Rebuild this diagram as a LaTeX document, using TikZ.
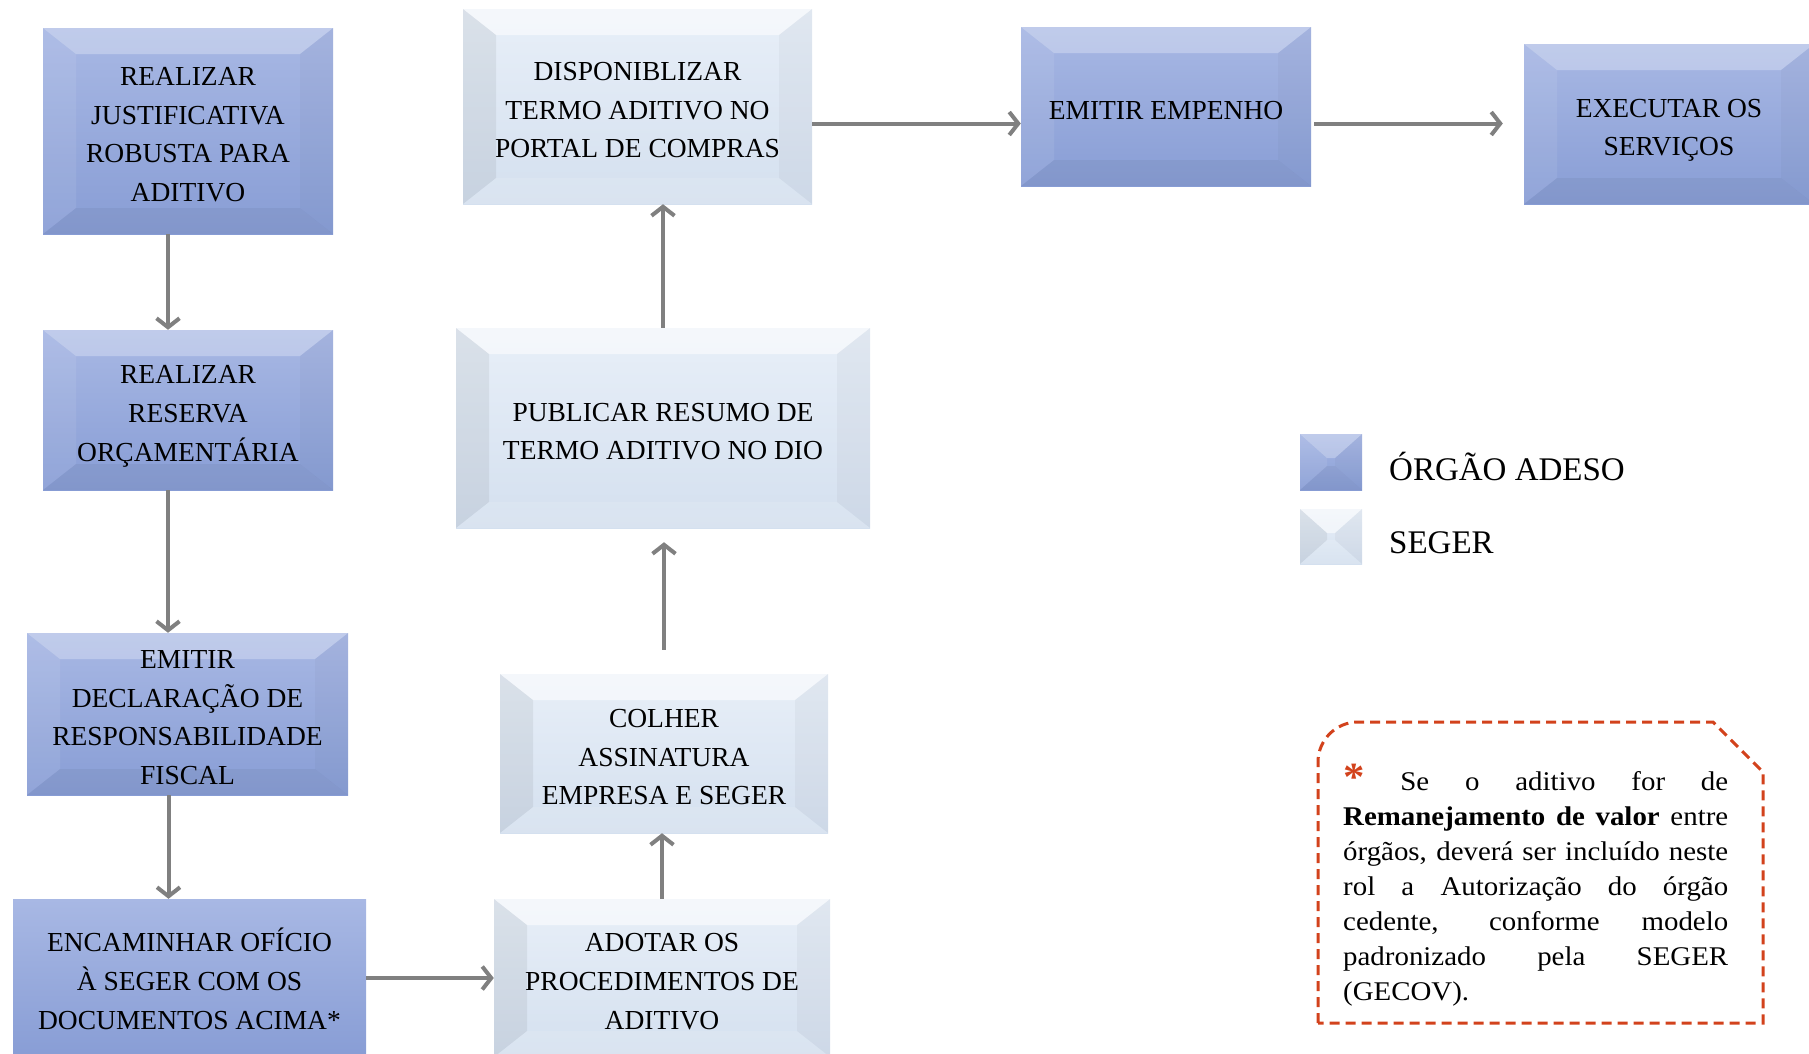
\documentclass[tikz,border=0pt]{standalone}
\usepackage{fontspec}
\setmainfont{Liberation Serif}
\newfontfamily\notefont{Liberation Serif}[FakeStretch=1.07]
\usetikzlibrary{arrows.meta,calc}
\definecolor{blueA}{RGB}{168,184,228}
\definecolor{blueB}{RGB}{136,157,213}
\definecolor{lightA}{RGB}{232,239,248}
\definecolor{lightB}{RGB}{212,224,239}
\definecolor{arrgray}{RGB}{128,128,128}
\definecolor{notered}{RGB}{210,66,28}
\newcommand{\boxfont}{\fontsize{27.5}{38.6}\selectfont}
\newcommand{\tstrut}{\rule{0pt}{35pt}}
\newcommand{\bstrut}{\rule[-10pt]{0pt}{10pt}}
\tikzset{
  bevelblue/.style 2 args={path picture={
    \coordinate (@nw) at (path picture bounding box.north west);
    \coordinate (@ne) at (path picture bounding box.north east);
    \coordinate (@sw) at (path picture bounding box.south west);
    \coordinate (@se) at (path picture bounding box.south east);
    \fill[white,opacity=0.28] (@nw) -- (@ne) -- ($(@ne)+(-#1,-#2)$) -- ($(@nw)+(#1,-#2)$) -- cycle;
    \fill[white,opacity=0.08] (@nw) -- ($(@nw)+(#1,-#2)$) -- ($(@sw)+(#1,#2)$) -- (@sw) -- cycle;
    \fill[black,opacity=0.025] (@ne) -- ($(@ne)+(-#1,-#2)$) -- ($(@se)+(-#1,#2)$) -- (@se) -- cycle;
    \fill[black,opacity=0.045] (@sw) -- ($(@sw)+(#1,#2)$) -- ($(@se)+(-#1,#2)$) -- (@se) -- cycle;
  }},
  bevellight/.style 2 args={path picture={
    \coordinate (@nw) at (path picture bounding box.north west);
    \coordinate (@ne) at (path picture bounding box.north east);
    \coordinate (@sw) at (path picture bounding box.south west);
    \coordinate (@se) at (path picture bounding box.south east);
    \fill[white,opacity=0.55] (@nw) -- (@ne) -- ($(@ne)+(-#1,-#2)$) -- ($(@nw)+(#1,-#2)$) -- cycle;
    \fill[black,opacity=0.06] (@nw) -- ($(@nw)+(#1,-#2)$) -- ($(@sw)+(#1,#2)$) -- (@sw) -- cycle;
    \fill[black,opacity=0.03] (@ne) -- ($(@ne)+(-#1,-#2)$) -- ($(@se)+(-#1,#2)$) -- (@se) -- cycle;
    \fill[white,opacity=0.12] (@sw) -- ($(@sw)+(#1,#2)$) -- ($(@se)+(-#1,#2)$) -- (@se) -- cycle;
  }},
  stepbox/.style={inner sep=0pt, align=center, font=\boxfont, text=black},
  bluebox/.style={stepbox, top color=blueA, bottom color=blueB, bevelblue={33}{26}},
  flatblue/.style={stepbox, top color=blueA, bottom color=blueB},
  lightbox/.style={stepbox, top color=lightA, bottom color=lightB, bevellight={33}{26}},
  arr/.style={draw=arrgray, line width=4pt, -{Straight Barb[length=9pt,width=23pt]}},
  legtext/.style={anchor=base west, inner sep=0pt, font=\fontsize{33}{40}\selectfont},
}
\begin{document}
\begin{tikzpicture}[x=1pt,y=1pt]
\path[use as bounding box] (0,0) rectangle (1809,-1053);
\clip (0,0) rectangle (1809,-1053);

% left column (ÓRGÃO ADESO)
\node[bluebox, minimum width=290pt, minimum height=206pt] (n1) at (188,-131)
  {\tstrut REALIZAR\\JUSTIFICATIVA\\ROBUSTA PARA\\ADITIVO\bstrut};
\node[bluebox, minimum width=290pt, minimum height=160pt] (n2) at (188,-410)
  {\tstrut REALIZAR\\RESERVA\\ORÇAMENTÁRIA\bstrut};
\node[bluebox, minimum width=321pt, minimum height=162pt] (n3) at (187.5,-714)
  {\tstrut EMITIR\\DECLARAÇÃO DE\\RESPONSABILIDADE\\FISCAL\bstrut};
\node[flatblue, minimum width=353pt, minimum height=158pt] (n4) at (189.5,-978)
  {\tstrut ENCAMINHAR OFÍCIO\\À SEGER COM OS\\DOCUMENTOS ACIMA*\bstrut};

% middle column (SEGER)
\node[lightbox, minimum width=336pt, minimum height=158pt] (n5) at (662,-978)
  {\tstrut ADOTAR OS\\PROCEDIMENTOS DE\\ADITIVO\bstrut};
\node[lightbox, minimum width=328pt, minimum height=159pt] (n6) at (664,-753.5)
  {\tstrut COLHER\\ASSINATURA\\EMPRESA E SEGER\bstrut};
\node[lightbox, minimum width=414pt, minimum height=200pt] (n7) at (663,-428)
  {\tstrut PUBLICAR RESUMO DE\\TERMO ADITIVO NO DIO\bstrut};
\node[lightbox, minimum width=349pt, minimum height=195pt] (n8) at (637.5,-106.5)
  {\tstrut DISPONIBLIZAR\\TERMO ADITIVO NO\\PORTAL DE COMPRAS\bstrut};

% top right
\node[bluebox, minimum width=290pt, minimum height=159pt] (n9) at (1166,-106.5)
  {\tstrut EMITIR EMPENHO\bstrut};
\node[bluebox, minimum width=290pt, minimum height=160pt] (n10) at (1669,-124)
  {\tstrut EXECUTAR OS\\SERVIÇOS\bstrut};

% connectors
\draw[arr] ([xshift=-20pt]n1.south) -- ([xshift=-20pt]n2.north);
\draw[arr] ([xshift=-20pt]n2.south) -- ([xshift=-20pt]n2.south |- n3.north);
\draw[arr] ([xshift=-19pt]n3.south) -- ([xshift=-19pt]n3.south |- n4.north);
\draw[arr] (n4.east) -- (n5.west);
\draw[arr] (n5.north) -- (n5.north |- n6.south);
\draw[arr, shorten <=24pt, shorten >=14pt] (n6.north) -- (n6.north |- n7.south);
\draw[arr] (n7.north) -- (n7.north |- n8.south);
\draw[arr] ([yshift=-17pt]n8.east) -- ([yshift=-17pt]n8.east -| n9.west);
\draw[arr, shorten <=3pt, shorten >=21pt] ([yshift=-17pt]n9.east) -- ([yshift=-17pt]n9.east -| n10.west);

% legend
\node[inner sep=0pt, top color=blueA, bottom color=blueB, bevelblue={27}{24},
      minimum width=62pt, minimum height=56pt] (lg1) at (1331,-462) {};
\node[inner sep=0pt, top color=lightA, bottom color=lightB, bevellight={27}{24},
      minimum width=62pt, minimum height=55pt] (lg2) at (1331,-536.5) {};
\node[legtext] (lt1) at (1389,-480) {ÓRGÃO ADESO};
\node[legtext] (lt2) at (1389,-553) {SEGER};

% note
\draw[notered, line width=3pt, dash pattern=on 10pt off 6pt]
  (1318,-1023) -- (1318,-762) arc[start angle=180, end angle=90, radius=40]
  -- (1713,-722) -- (1763,-772) -- (1763,-1023) -- cycle;
\node[anchor=north west, inner sep=0pt, align=left,
      font=\notefont\fontsize{27}{35}\selectfont] (note) at (1343,-764)
  {\makebox[385pt][s]{\textcolor{notered}{\fontsize{40}{35}\selectfont\bfseries *} Se o aditivo for de}\\
   \makebox[385pt][s]{\textbf{Remanejamento de valor} entre}\\
   \makebox[385pt][s]{órgãos, deverá ser incluído neste}\\
   \makebox[385pt][s]{rol a Autorização do órgão}\\
   \makebox[385pt][s]{cedente, conforme modelo}\\
   \makebox[385pt][s]{padronizado pela SEGER}\\
   (GECOV).};
\end{tikzpicture}
\end{document}
